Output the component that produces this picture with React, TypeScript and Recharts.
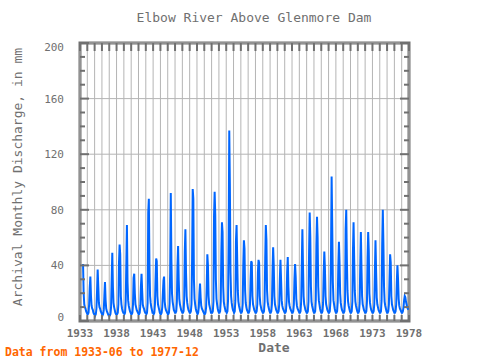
import { LineChart, Line, XAxis, YAxis, ReferenceLine, ReferenceArea } from "recharts";

// monthly discharge (mm), one row per year, Jan..Dec (1933 starts in June)
const FLOW_1930S = [
  [41, 20, 12, 10, 9, 7, 6],
  [5, 5, 6, 12, 24, 32, 18, 11, 9, 8, 6, 5],
  [5, 4, 5, 9, 22, 37, 25, 13, 10, 9, 7, 6],
  [5, 4, 5, 8, 18, 28, 15, 9, 7, 6, 5, 4],
  [4, 4, 5, 10, 30, 49, 25, 13, 10, 8, 6, 5],
  [5, 5, 6, 12, 42, 55, 48, 18, 12, 9, 7, 6],
  [6, 5, 6, 14, 40, 69, 28, 15, 11, 9, 7, 6],
];
const FLOW_1940S = [
  [5, 5, 6, 12, 31, 34, 20, 12, 10, 8, 7, 6],
  [5, 5, 6, 11, 25, 34, 22, 12, 10, 9, 7, 6],
  [6, 5, 6, 13, 78, 88, 40, 18, 13, 10, 8, 6],
  [6, 5, 6, 12, 30, 45, 43, 18, 12, 10, 8, 6],
  [5, 5, 6, 10, 20, 29, 32, 14, 10, 8, 7, 6],
  [5, 5, 6, 12, 35, 92, 45, 20, 14, 11, 8, 7],
  [6, 6, 7, 14, 40, 54, 30, 16, 12, 10, 8, 7],
  [6, 6, 7, 15, 50, 66, 35, 18, 13, 10, 8, 7],
  [6, 6, 7, 12, 45, 95, 88, 30, 16, 12, 9, 7],
  [6, 5, 6, 10, 20, 27, 17, 11, 9, 8, 7, 6],
];
const FLOW_1950S = [
  [5, 5, 6, 10, 25, 48, 40, 18, 12, 10, 8, 6],
  [6, 6, 7, 14, 76, 93, 76, 30, 16, 12, 9, 7],
  [6, 6, 7, 14, 50, 71, 64, 25, 14, 11, 9, 7],
  [7, 6, 7, 15, 60, 137, 97, 35, 18, 13, 10, 8],
  [7, 6, 7, 15, 58, 69, 45, 22, 14, 11, 9, 7],
  [6, 6, 7, 12, 40, 58, 52, 22, 13, 10, 8, 7],
  [6, 6, 7, 12, 30, 43, 42, 18, 12, 10, 8, 7],
  [6, 6, 7, 12, 35, 44, 42, 18, 12, 10, 8, 7],
  [6, 6, 7, 14, 45, 69, 58, 22, 14, 11, 9, 7],
  [6, 6, 7, 12, 35, 53, 40, 18, 12, 10, 8, 7],
];
const FLOW_1960S = [
  [6, 6, 7, 12, 30, 44, 30, 15, 11, 9, 8, 7],
  [6, 6, 7, 14, 35, 46, 25, 14, 11, 9, 8, 7],
  [6, 6, 7, 12, 30, 41, 32, 16, 11, 9, 8, 7],
  [6, 6, 7, 14, 40, 66, 40, 18, 12, 10, 8, 7],
  [6, 6, 7, 14, 50, 78, 60, 25, 14, 11, 9, 7],
  [6, 6, 7, 15, 55, 75, 60, 25, 15, 12, 9, 7],
  [6, 6, 7, 13, 35, 50, 38, 18, 12, 10, 8, 7],
  [6, 6, 7, 14, 50, 104, 68, 28, 15, 12, 9, 7],
  [6, 6, 7, 14, 40, 57, 42, 20, 13, 10, 8, 7],
  [6, 6, 7, 14, 66, 80, 45, 22, 14, 11, 9, 7],
];
const FLOW_1970S = [
  [6, 6, 7, 14, 50, 71, 45, 22, 14, 11, 9, 7],
  [6, 6, 7, 13, 40, 64, 38, 18, 12, 10, 8, 7],
  [6, 6, 7, 14, 45, 64, 50, 20, 13, 10, 8, 7],
  [6, 6, 7, 12, 35, 58, 36, 17, 12, 10, 8, 7],
  [6, 6, 7, 15, 55, 80, 55, 25, 14, 11, 9, 7],
  [6, 6, 7, 12, 30, 48, 42, 18, 12, 10, 8, 7],
  [6, 6, 7, 12, 28, 40, 30, 16, 11, 9, 8, 7],
  [6, 6, 7, 10, 15, 18, 17, 14, 12, 10, 9, 8],
];

const FIRST_YEAR = 1933;
const FIRST_MONTH = 6;
const X_LABELS = [1933, 1938, 1943, 1948, 1953, 1958, 1963, 1968, 1973, 1978];
const Y_LABELS = [0, 40, 80, 120, 160, 200];
const Y_MINOR = [10, 20, 30, 50, 60, 70, 90, 100, 110, 130, 140, 150, 170, 180, 190];
const YEAR_TICKS = Array.from({ length: 46 }, (_, i) => 1933 + i);

const rows = [...FLOW_1930S, ...FLOW_1940S, ...FLOW_1950S, ...FLOW_1960S, ...FLOW_1970S];
const data: { t: number; v: number }[] = [];
rows.forEach((row, i) => {
  const first = i === 0 ? FIRST_MONTH : 1;
  row.forEach((v, j) => data.push({ t: FIRST_YEAR + i + (first - 1 + j) / 12, v }));
});

const X0 = 1933;
const X1 = 1978;
const FRAME = "#707070";
const GRID = "#b4b4b4";
const TEXT = "#707070";
const FONT = "'DejaVu Sans Mono', monospace";
// tick lengths in data units (plot is 329 x 278 px)
const PX_X = (X1 - X0) / 329;
const PX_Y = 200 / 278;

// y labels: the end labels are nudged inside the frame
const YTick = (props: any) => {
  const { x, y, payload } = props;
  const v = payload.value;
  const shift = v === 200 ? 4 : v === 0 ? -4 : 0;
  return (
    <text x={x - 8} y={y + shift} dy="0.355em" textAnchor="end" fontFamily={FONT} fontSize={11} fill={TEXT}>
      {v}
    </text>
  );
};

export default function App() {
  const ids = { xAxisId: "x", yAxisId: "y", ifOverflow: "visible" as const };
  return (
    <div style={{ position: "absolute", left: 0, top: 0, width: 480, height: 360, background: "#fff" }}>
      <LineChart width={480} height={360} data={data} margin={{ top: 43, right: 71, bottom: 0, left: 0 }}>
        <XAxis
          xAxisId="x"
          dataKey="t"
          type="number"
          domain={[X0, X1]}
          allowDataOverflow
          ticks={X_LABELS}
          interval={0}
          height={39}
          tickSize={6}
          tickLine={false}
          axisLine={false}
          tick={{ fill: TEXT, fontSize: 11, fontWeight: "bold", fontFamily: FONT }}
        />
        <YAxis
          yAxisId="y"
          domain={[0, 200]}
          allowDataOverflow
          ticks={Y_LABELS}
          interval={0}
          width={80}
          tickLine={false}
          axisLine={false}
          tick={<YTick />}
        />
        {YEAR_TICKS.map((yr) => (
          <ReferenceLine key={"g" + yr} {...ids} x={yr} stroke={GRID} strokeWidth={1} />
        ))}
        {Y_LABELS.map((v) => (
          <ReferenceLine key={"h" + v} {...ids} y={v} stroke={GRID} strokeWidth={1} />
        ))}
        <Line
          xAxisId="x"
          yAxisId="y"
          dataKey="v"
          type="linear"
          stroke="#0066ff"
          strokeWidth={2}
          dot={false}
          isAnimationActive={false}
        />
        {YEAR_TICKS.map((yr) => (
          <ReferenceLine key={"tt" + yr} {...ids} segment={[{ x: yr, y: 200 }, { x: yr, y: 200 - 8 * PX_Y }]} stroke={FRAME} strokeWidth={2} />
        ))}
        {YEAR_TICKS.map((yr) => (
          <ReferenceLine key={"tb" + yr} {...ids} segment={[{ x: yr, y: 0 }, { x: yr, y: 6 * PX_Y }]} stroke={FRAME} strokeWidth={2} />
        ))}
        {Y_MINOR.map((v) => (
          <ReferenceLine key={"ml" + v} {...ids} segment={[{ x: X0, y: v }, { x: X0 + 5 * PX_X, y: v }]} stroke={FRAME} strokeWidth={2} />
        ))}
        {Y_MINOR.map((v) => (
          <ReferenceLine key={"mr" + v} {...ids} segment={[{ x: X1, y: v }, { x: X1 - 5 * PX_X, y: v }]} stroke={FRAME} strokeWidth={2} />
        ))}
        {Y_LABELS.map((v) => (
          <ReferenceLine key={"Ml" + v} {...ids} segment={[{ x: X0, y: v }, { x: X0 + 9 * PX_X, y: v }]} stroke={FRAME} strokeWidth={2} />
        ))}
        {Y_LABELS.map((v) => (
          <ReferenceLine key={"Mr" + v} {...ids} segment={[{ x: X1, y: v }, { x: X1 - 9 * PX_X, y: v }]} stroke={FRAME} strokeWidth={2} />
        ))}
        <ReferenceArea {...ids} x1={X0} x2={X1} y1={0} y2={200} fill="none" fillOpacity={0} stroke={FRAME} strokeWidth={3} />
      </LineChart>
      <svg width={480} height={360} style={{ position: "absolute", left: 0, top: 0, pointerEvents: "none" }}>
        <text x={254} y={22} textAnchor="middle" fontFamily={FONT} fontSize={13} fill={TEXT}>
          Elbow River Above Glenmore Dam
        </text>
        <text x={274} y={352} textAnchor="middle" fontFamily={FONT} fontSize={13} fontWeight="bold" fill={TEXT}>
          Date
        </text>
        <text transform="translate(22,177) rotate(-90)" textAnchor="middle" fontFamily={FONT} fontSize={13} fill={TEXT}>
          Archival Monthly Discharge, in mm
        </text>
        <text x={5} y={356} fontFamily={FONT} fontSize={11.5} fontWeight="bold" fill="#ff6600">
          Data from 1933-06 to 1977-12
        </text>
      </svg>
    </div>
  );
}
